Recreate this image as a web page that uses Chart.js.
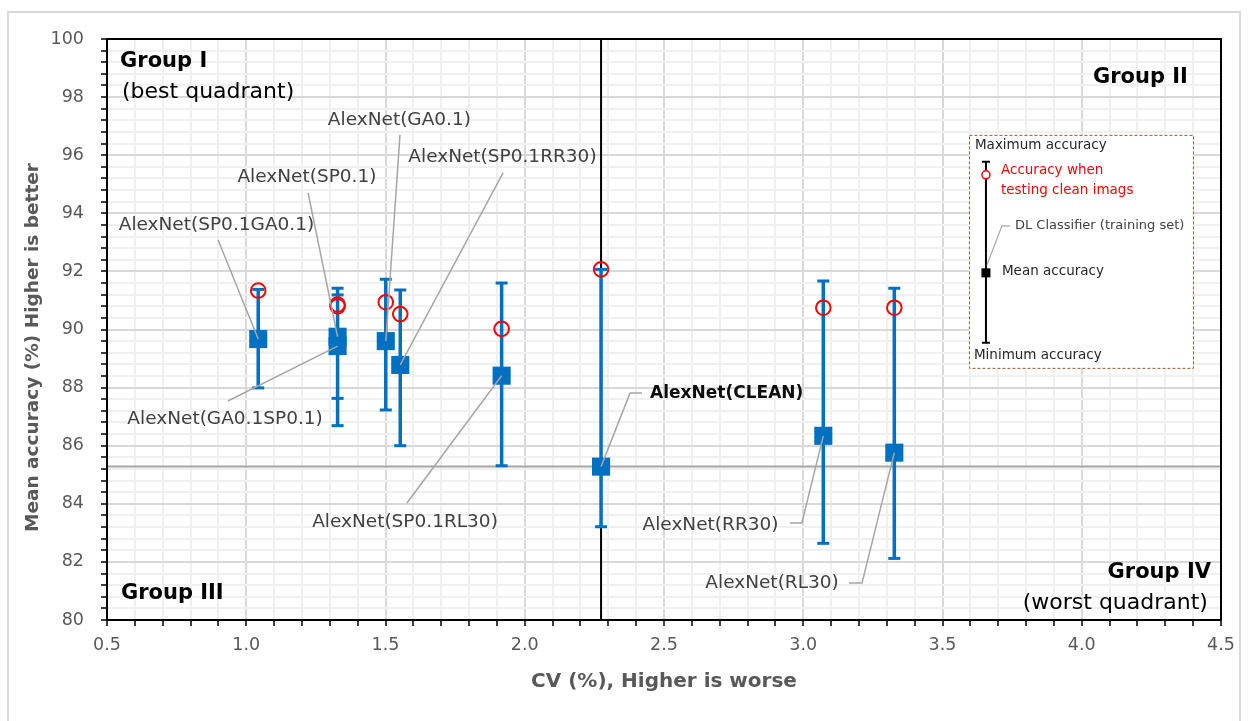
<!DOCTYPE html>
<html><head><meta charset="utf-8">
<script src="https://cdn.jsdelivr.net/npm/chart.js@4.4.1/dist/chart.umd.min.js"></script>
<style>
html,body{margin:0;padding:0;background:#fff;}
#wrap{position:relative;width:1248px;height:721px;overflow:hidden;}
#frame{position:absolute;left:7px;top:11px;width:1234px;height:720px;border:2px solid #d9d9d9;box-sizing:border-box;}
canvas{position:absolute;left:0;top:0;}
</style></head><body>
<div id="wrap"><div id="frame"></div><canvas id="c" width="1248" height="721"></canvas></div>
<script>
// ---- data ----
const models   = ['AlexNet(SP0.1GA0.1)','AlexNet(SP0.1)','AlexNet(GA0.1SP0.1)','AlexNet(GA0.1)','AlexNet(SP0.1RR30)','AlexNet(SP0.1RL30)','AlexNet(CLEAN)','AlexNet(RR30)','AlexNet(RL30)'];
const cv       = [1.043, 1.328, 1.328, 1.501, 1.553, 1.917, 2.274, 3.072, 3.327];
const meanAcc  = [89.67, 89.75, 89.43, 89.60, 88.78, 88.41, 85.28, 86.34, 85.76];
const maxAcc   = [91.38, 91.42, 91.19, 91.73, 91.36, 91.60, 92.07, 91.67, 91.42];
const minAcc   = [87.99, 86.69, 87.63, 87.23, 86.00, 85.31, 83.21, 82.64, 82.12];
const cleanAcc = [91.34, 90.86, 90.80, 90.94, 90.53, 90.02, 92.07, 90.75, 90.75];
const xTickLabels = ['0.5','1.0','1.5','2.0','2.5','3.0','3.5','4.0','4.5'];
const yTickLabels = ['80','82','84','86','88','90','92','94','96','98','100'];
const cleanIndex = models.indexOf('AlexNet(CLEAN)');

// ---- annotation placement (data units) ----
const labelPlacement = {
  'AlexNet(SP0.1GA0.1)': {at:[0.893,93.60], leader:[[0.899,93.08]]},
  'AlexNet(SP0.1)':      {at:[1.218,95.25], leader:[[1.222,94.70]]},
  'AlexNet(GA0.1SP0.1)': {at:[0.924,86.92], leader:[[0.934,87.54]]},
  'AlexNet(GA0.1)':      {at:[1.550,97.21], leader:[[1.552,96.70]]},
  'AlexNet(SP0.1RR30)':  {at:[1.920,95.94], leader:[[1.922,95.39]]},
  'AlexNet(SP0.1RL30)':  {at:[1.570,83.37], leader:[[1.577,84.03]]},
  'AlexNet(CLEAN)':      {at:[2.450,87.78], align:'left', bold:true, leader:[[2.421,87.81],[2.378,87.81]]},
  'AlexNet(RR30)':       {at:[2.667,83.27], leader:[[2.952,83.34],[2.995,83.34]]},
  'AlexNet(RL30)':       {at:[2.888,81.27], leader:[[3.164,81.27],[3.211,81.27]]}
};
const quadrantNotes = [
  {text:'Group I', at:[0.547,99.24], align:'left', bold:true},
  {text:'(best quadrant)', at:[0.554,98.18], align:'left'},
  {text:'Group II', at:[4.381,98.69], align:'right', bold:true},
  {text:'Group III', at:[0.550,80.90], align:'left', bold:true},
  {text:'Group IV', at:[4.464,81.65], align:'right', bold:true},
  {text:'(worst quadrant)', at:[4.453,80.59], align:'right'}
];
const insetAnchor = [3.595, 96.70];

const FONT = "'DejaVu Sans', sans-serif";
const BLUE = '#0070C0';
const isMult = (v, m) => Math.abs(v / m - Math.round(v / m)) < 1e-6;

const errData = [];
cv.forEach((x, i) => { errData.push({x, y: minAcc[i]}, {x, y: maxAcc[i]}, {x, y: null}); });

const annotPlugin = {
  id: 'annot',
  afterDatasetsDraw(chart) {
    const {ctx, chartArea: ca, scales: {x, y}} = chart;
    const px = v => x.getPixelForValue(v), py = v => y.getPixelForValue(v);
    ctx.save();
    // leaders + labels
    models.forEach((m, i) => {
      const p = labelPlacement[m];
      ctx.strokeStyle = '#a6a6a6'; ctx.lineWidth = 1.5;
      ctx.beginPath();
      p.leader.forEach((q, k) => { k ? ctx.lineTo(px(q[0]), py(q[1])) : ctx.moveTo(px(q[0]), py(q[1])); });
      ctx.lineTo(px(cv[i]), py(meanAcc[i]));
      ctx.stroke();
      ctx.font = (p.bold ? 'bold 17px ' : '18.5px ') + FONT;
      ctx.fillStyle = p.bold ? '#0d0d0d' : '#404040';
      ctx.textAlign = p.align || 'center'; ctx.textBaseline = 'middle';
      ctx.fillText(m, px(p.at[0]), py(p.at[1]));
    });
    // quadrant notes
    quadrantNotes.forEach(n => {
      ctx.font = (n.bold ? 'bold 21px ' : '22px ') + FONT;
      ctx.fillStyle = '#000';
      ctx.textAlign = n.align; ctx.textBaseline = 'middle';
      ctx.fillText(n.text, px(n.at[0]), py(n.at[1]));
    });
    // inset legend
    const bx = px(insetAnchor[0]), by = py(insetAnchor[1]);
    ctx.fillStyle = '#fff'; ctx.fillRect(bx, by, 224, 233);
    ctx.setLineDash([3, 2]); ctx.strokeStyle = '#9c5a2c'; ctx.lineWidth = 1;
    ctx.strokeRect(bx + 0.5, by + 0.5, 224, 233); ctx.setLineDash([]);
    const lx = bx + 17;
    ctx.strokeStyle = '#000'; ctx.lineWidth = 2;
    ctx.beginPath();
    ctx.moveTo(lx, by + 27); ctx.lineTo(lx, by + 208);
    ctx.moveTo(lx - 4, by + 27); ctx.lineTo(lx + 4, by + 27);
    ctx.moveTo(lx - 4, by + 208); ctx.lineTo(lx + 4, by + 208);
    ctx.stroke();
    ctx.strokeStyle = '#a6a6a6'; ctx.lineWidth = 1.2;
    ctx.beginPath(); ctx.moveTo(lx + 1, by + 130); ctx.lineTo(lx + 16, by + 91); ctx.lineTo(lx + 24, by + 91); ctx.stroke();
    ctx.fillStyle = '#000'; ctx.fillRect(lx - 4.5, by + 133.5, 9, 9);
    ctx.strokeStyle = '#ff0000'; ctx.lineWidth = 1.5; ctx.fillStyle = '#fff';
    ctx.beginPath(); ctx.arc(lx, by + 40, 4, 0, Math.PI * 2); ctx.fill(); ctx.stroke();
    ctx.textAlign = 'left'; ctx.textBaseline = 'middle';
    ctx.font = '13.5px ' + FONT;
    ctx.fillStyle = '#262626';
    ctx.fillText('Maximum accuracy', bx + 6, by + 11);
    ctx.fillText('Mean accuracy', bx + 33, by + 137);
    ctx.fillText('Minimum accuracy', bx + 5, by + 221);
    ctx.fillStyle = '#ff0000';
    ctx.fillText('Accuracy when', bx + 32, by + 36);
    ctx.fillText('testing clean imags', bx + 32, by + 56);
    ctx.font = '13px ' + FONT; ctx.fillStyle = '#404040';
    ctx.fillText('DL Classifier (training set)', bx + 46, by + 91);
    // plot frame
    ctx.strokeStyle = '#000'; ctx.lineWidth = 2;
    ctx.strokeRect(ca.left, ca.top, ca.right - ca.left, ca.bottom - ca.top);
    // y title
    ctx.translate(33, 347.5); ctx.rotate(-Math.PI / 2);
    ctx.font = 'bold 18.5px ' + FONT; ctx.fillStyle = '#595959';
    ctx.textAlign = 'center'; ctx.textBaseline = 'middle';
    ctx.fillText('Mean accuracy (%) Higher is better', 0, 0);
    ctx.restore();
  }
};

new Chart(document.getElementById('c'), {
  type: 'scatter',
  data: {
    datasets: [
      {type: 'line', label: 'mean of CLEAN', data: [{x: 0.5, y: meanAcc[cleanIndex]}, {x: 4.5, y: meanAcc[cleanIndex]}],
       borderColor: '#a6a6a6', borderWidth: 2, pointRadius: 0, order: 6},
      {type: 'line', label: 'CV of CLEAN', data: [{x: cv[cleanIndex], y: 80}, {x: cv[cleanIndex], y: 100}],
       borderColor: '#000', borderWidth: 2, pointRadius: 0, order: 5},
      {type: 'line', label: 'range', data: errData, spanGaps: false,
       borderColor: BLUE, borderWidth: 3.5, pointStyle: 'line', pointRadius: 6,
       pointBorderWidth: 3, pointBorderColor: BLUE, pointBackgroundColor: BLUE, order: 4},
      {label: 'Mean accuracy', data: cv.map((x, i) => ({x, y: meanAcc[i]})),
       pointStyle: 'rect', pointRadius: 12.8, backgroundColor: BLUE, borderWidth: 0, order: 3},
      {label: 'Clean accuracy', data: cv.map((x, i) => ({x, y: cleanAcc[i]})),
       pointStyle: 'circle', pointRadius: 7.3, backgroundColor: 'rgba(0,0,0,0)', borderColor: '#ff0000', borderWidth: 2, order: 2}
    ]
  },
  options: {
    responsive: false, animation: false, devicePixelRatio: 1,
    events: [],
    layout: {padding: {left: 0, top: 39, right: 27, bottom: 0}},
    plugins: {legend: {display: false}, tooltip: {enabled: false}},
    scales: {
      x: {
        type: 'linear', min: 0.5, max: 4.5,
        afterFit: s => { s.height = 101; },
        ticks: {stepSize: 0.1, autoSkip: false, maxRotation: 0, padding: 9, color: '#595959',
                font: {family: FONT, size: 17.5},
                callback: v => isMult(v, 0.5) ? xTickLabels[Math.round((v - 0.5) / 0.5)] : ''},
        grid: {color: c => isMult(c.tick.value, 0.5) ? '#d9d9d9' : '#f0f0f0', lineWidth: 2,
               tickColor: '#000', tickLength: 6, tickWidth: 1.5},
        border: {color: '#000', width: 2},
        title: {display: true, text: 'CV (%), Higher is worse', color: '#595959',
                font: {family: FONT, size: 20, weight: 'bold'}, padding: {top: 0, bottom: 27}}
      },
      y: {
        type: 'linear', min: 80, max: 100,
        afterFit: s => { s.width = 107; },
        ticks: {stepSize: 0.4, autoSkip: false, padding: 17, color: '#595959',
                font: {family: FONT, size: 17.5},
                callback: v => isMult(v - 80, 2) ? yTickLabels[Math.round((v - 80) / 2)] : ''},
        grid: {color: c => isMult(c.tick.value - 80, 2) ? '#d9d9d9' : '#f0f0f0', lineWidth: 2,
               tickColor: '#000', tickLength: 6, tickWidth: 1.5},
        border: {color: '#000', width: 2}
      }
    }
  },
  plugins: [annotPlugin]
});
</script>
</body></html>
